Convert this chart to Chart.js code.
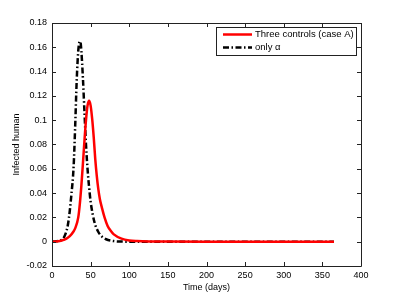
<!DOCTYPE html>
<html>
<head>
<meta charset="utf-8">
<script src="https://cdn.jsdelivr.net/npm/chart.js@4"></script>
<style>
html,body{margin:0;padding:0;background:#fff;}
#wrap{width:399px;height:299px;}
</style>
</head>
<body>
<div id="wrap"><canvas id="c" width="399" height="299"></canvas></div>
<script>
// ---- data ----
const seriesNames = ["Three controls (case A)", "only \u03b1"];
const redDays   = [0,5,10,15,20,25,30,34,36,38,40,42,44,46,48,50,52,54,56,58,60,62,65,68,72,76,80,90,100,110,130,150,200,250,300,365];
const redValues = [0,0.0002,0.0006,0.0015,0.003,0.006,0.011,0.02,0.031,0.046,0.064,0.083,0.1,0.112,0.116,0.112,0.101,0.086,0.068,0.054,0.043,0.035,0.027,0.02,0.013,0.009,0.006,0.0025,0.001,0.0005,0.0002,0.0001,0,0,0,0];
const blackDays   = [0,5,10,15,20,22,25,28,30,32,34,36,37,38,40,42,44,46,48,50,55,60,65,70,80,90,100,150,200,250,300,365];
const blackValues = [0,0.0003,0.001,0.003,0.012,0.02,0.038,0.062,0.095,0.133,0.157,0.165,0.164,0.157,0.135,0.107,0.08,0.06,0.045,0.033,0.016,0.008,0.004,0.002,0.0005,0.0001,0,0,0,0,0,0];
const xTicks = [0,50,100,150,200,250,300,350,400];
const yTickLabels = ["-0.02","0","0.02","0.04","0.06","0.08","0.1","0.12","0.14","0.16","0.18"];
const xTitle = "Time (days)";
const yTitle = "Infected human";

const FONT = "'Liberation Sans', Arial, Helvetica, sans-serif";

const boxPlugin = {
  id: 'boxPlugin',
  afterDraw(chart) {
    const ctx = chart.ctx, a = chart.chartArea;
    const xs = chart.scales.x, ys = chart.scales.y;
    ctx.save();
    ctx.strokeStyle = '#222';
    ctx.lineWidth = 1;
    ctx.beginPath();
    ctx.rect(Math.round(a.left)+0.5, Math.round(a.top)+0.5, Math.round(a.right-a.left), Math.round(a.bottom-a.top));
    ctx.stroke();
    const tl = 4;
    ctx.beginPath();
    xs.ticks.forEach(t => {
      const p = Math.round(xs.getPixelForValue(t.value)) + 0.5;
      ctx.moveTo(p, a.bottom); ctx.lineTo(p, a.bottom - tl);
      ctx.moveTo(p, a.top); ctx.lineTo(p, a.top + tl);
    });
    ys.ticks.forEach(t => {
      const p = Math.round(ys.getPixelForValue(t.value)) + 0.5;
      ctx.moveTo(a.left, p); ctx.lineTo(a.left + tl, p);
      ctx.moveTo(a.right, p); ctx.lineTo(a.right - tl, p);
    });
    ctx.stroke();
    // legend
    const lx = 216.5, ly = 27.5, lw = 140, lh = 28;
    ctx.fillStyle = '#fff';
    ctx.fillRect(lx, ly, lw, lh);
    ctx.strokeStyle = '#222';
    ctx.strokeRect(lx, ly, lw, lh);
    const rows = [34.5, 47.5];
    chart.data.datasets.forEach((ds, i) => {
      ctx.save();
      ctx.strokeStyle = ds.borderColor;
      ctx.lineWidth = ds.borderWidth;
      ctx.setLineDash(ds.borderDash || []);
      ctx.beginPath();
      ctx.moveTo(223, rows[i]); ctx.lineTo(252, rows[i]);
      ctx.stroke();
      ctx.restore();
      ctx.fillStyle = '#000';
      ctx.font = '9.5px ' + FONT;
      ctx.textBaseline = 'middle';
      ctx.textAlign = 'left';
      ctx.fillText(ds.label, 255, rows[i]);
    });
    ctx.restore();
  }
};

new Chart(document.getElementById('c'), {
  type: 'line',
  data: {
    datasets: [
      { label: seriesNames[0], data: redDays.map((d,i)=>({x:d,y:redValues[i]})),
        borderColor: '#ff0000', borderWidth: 2.5, pointRadius: 0, cubicInterpolationMode: 'monotone', fill: false },
      { label: seriesNames[1], data: blackDays.map((d,i)=>({x:d,y:blackValues[i]})),
        borderColor: '#000000', borderWidth: 2.5, borderDash: [6,2.5,1.5,2.5], pointRadius: 0, cubicInterpolationMode: 'monotone', fill: false }
    ]
  },
  options: {
    responsive: false,
    animation: false,
    layout: { padding: { top: 23, right: 38, left: 11, bottom: 6 } },
    plugins: { legend: { display: false }, tooltip: { enabled: false } },
    scales: {
      x: {
        type: 'linear', min: 0, max: 400,
        afterBuildTicks: s => { s.ticks = xTicks.map(v => ({value: v})); },
        afterFit: s => { s.height = 27; },
        grid: { display: false, drawTicks: false },
        border: { display: false },
        ticks: { color: '#000', font: { family: FONT, size: 9 }, padding: 4, maxRotation: 0,
                 callback: v => String(v) },
        title: { display: true, text: xTitle, color: '#000', font: { family: FONT, size: 9 }, padding: { top: 1, bottom: 0 } }
      },
      y: {
        type: 'linear', min: -0.02, max: 0.18,
        afterBuildTicks: s => { s.ticks = yTickLabels.map(l => ({value: parseFloat(l)})); },
        afterFit: s => { s.width = 41; },
        grid: { display: false, drawTicks: false },
        border: { display: false },
        ticks: { color: '#000', font: { family: FONT, size: 9 }, padding: 5,
                 callback: function(v) { const i = yTickLabels.findIndex(l => Math.abs(parseFloat(l)-v) < 1e-9); return i >= 0 ? yTickLabels[i] : ''; } },
        title: { display: true, text: yTitle, color: '#000', font: { family: FONT, size: 9 }, padding: { top: 0, bottom: 6 } }
      }
    }
  },
  plugins: [boxPlugin]
});
</script>
</body>
</html>
